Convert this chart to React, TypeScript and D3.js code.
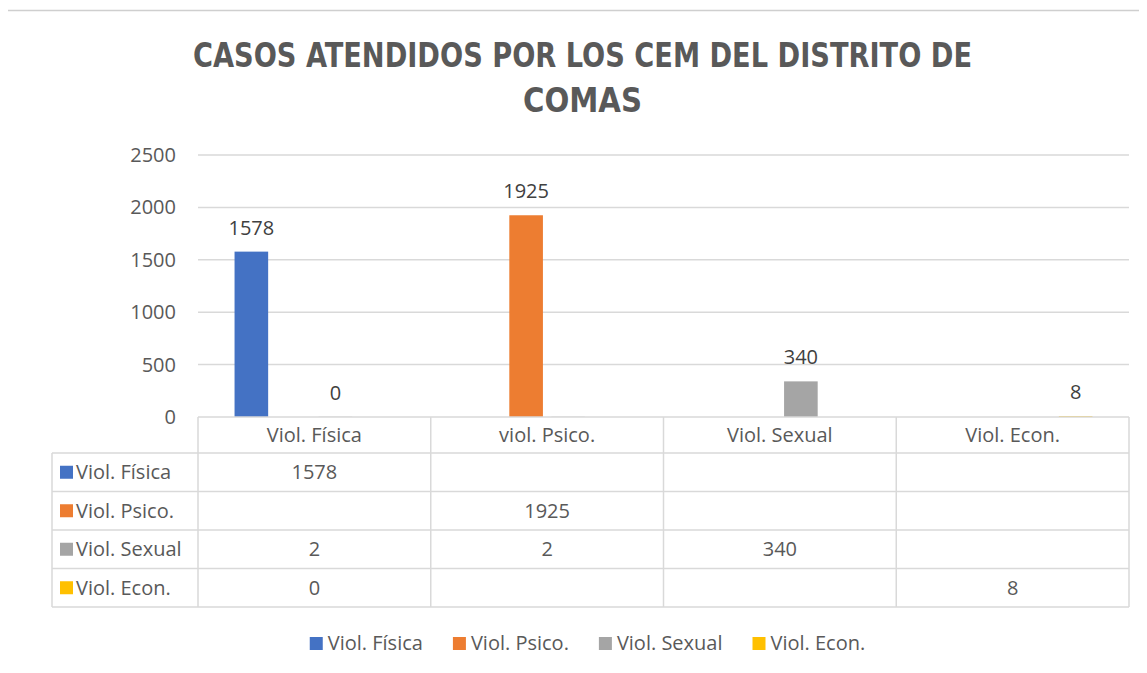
import React, { useEffect, useRef } from "react";
import * as d3 from "d3";

// Chart data
const categories = ["Viol. Física", "viol. Psico.", "Viol. Sexual", "Viol. Econ."];
const seriesNames = ["Viol. Física", "Viol. Psico.", "Viol. Sexual", "Viol. Econ."];
const fisica = [1578, null, null, null];
const psico = [null, 1925, null, null];
const sexual = [2, 2, 340, null];
const econ = [0, null, null, 8];
const seriesColors = ["#4472C4", "#ED7D31", "#A5A5A5", "#FFC000"];
const yTicks = [0, 500, 1000, 1500, 2000, 2500];
// data labels visible over the bars: [series index, category index, text]
const barLabels: [number, number, string][] = [
  [0, 0, "1578"],
  [2, 0, "0"],
  [1, 1, "1925"],
  [2, 2, "340"],
  [3, 3, "8"],
];

const title = ["CASOS ATENDIDOS POR LOS CEM DEL DISTRITO DE", "COMAS"];

const W = 1147;
const H = 673;
const FONT = "'Open Sans', 'Segoe UI', sans-serif";
const FS = "20px";
const TEXT = "#595959";
const GRID = "#D9D9D9";

const App = () => {
  const svgRef = useRef<SVGSVGElement>(null);

  useEffect(() => {
    const svg = d3.select(svgRef.current);
    svg.selectAll("*").remove();

    const values = [fisica, psico, sexual, econ];
    const plot = { left: 198, right: 1129, top: 155, bottom: 417 };
    const table = { left: 52, headerH: 36, rowH: 38.5 };

    // chart area border (left and top edges are inside the picture)
    svg.append("line")
      .attr("x1", 7).attr("x2", 7).attr("y1", 10).attr("y2", H)
      .attr("stroke", "#CFCFCF").attr("stroke-width", 2);
    svg.append("line")
      .attr("x1", 6).attr("x2", W).attr("y1", 10.5).attr("y2", 10.5)
      .attr("stroke", "#CFCFCF").attr("stroke-width", 1.5);

    // title
    svg.append("g").selectAll("text")
      .data(title)
      .join("text")
      .attr("x", 582.5)
      .attr("y", (d, i) => 67 + i * 45)
      .attr("text-anchor", "middle")
      .attr("textLength", (d, i) => (i === 0 ? 779 : 119))
      .attr("lengthAdjust", "spacingAndGlyphs")
      .style("font-family", "'Liberation Sans Narrow', 'DejaVu Sans Condensed', 'Open Sans', sans-serif")
      .style("font-weight", "bold")
      .style("font-size", "34px")
      .style("fill", TEXT)
      .text((d) => d);

    const x = d3.scaleBand()
      .domain(categories)
      .range([plot.left, plot.right])
      .padding(0);

    const xs = d3.scaleBand()
      .domain(seriesNames)
      .range([0, x.bandwidth()])
      .paddingInner(0.2)
      .paddingOuter(0.87);

    const y = d3.scaleLinear()
      .domain([0, 2500])
      .range([plot.bottom, plot.top]);

    // gridlines
    svg.append("g").selectAll("line")
      .data(yTicks.filter((t) => t > 0))
      .join("line")
      .attr("x1", plot.left).attr("x2", plot.right)
      .attr("y1", (d) => y(d)).attr("y2", (d) => y(d))
      .style("stroke", GRID).style("stroke-width", 1.5);

    // y tick labels
    svg.append("g").selectAll("text")
      .data(yTicks)
      .join("text")
      .attr("x", 176)
      .attr("y", (d) => y(d) + 7)
      .attr("text-anchor", "end")
      .style("font-family", FONT).style("font-size", FS)
      .style("fill", TEXT)
      .text((d) => d);

    // bars
    values.forEach((vals, si) => {
      svg.append("g").selectAll("rect")
        .data(vals.map((v, ci) => ({ v, ci })).filter((d) => d.v != null))
        .join("rect")
        .attr("x", (d) => x(categories[d.ci])! + xs(seriesNames[si])!)
        .attr("width", xs.bandwidth())
        .attr("y", (d) => y(d.v as number))
        .attr("height", (d) => y(0) - y(d.v as number))
        .attr("fill", seriesColors[si]);
    });

    // bar labels
    svg.append("g").selectAll("text")
      .data(barLabels)
      .join("text")
      .attr("x", (d) => x(categories[d[1]])! + xs(seriesNames[d[0]])! + xs.bandwidth() / 2)
      .attr("y", (d) => y((values[d[0]][d[1]] as number) ?? 0) - 17)
      .attr("text-anchor", "middle")
      .style("font-family", FONT).style("font-size", FS)
      .style("fill", "#404040")
      .text((d) => d[2]);

    // data table
    const tg = svg.append("g");
    const headerTop = plot.bottom;
    const rowsTop = headerTop + table.headerH;
    const tableBottom = rowsTop + table.rowH * seriesNames.length;
    const line = (x1: number, y1: number, x2: number, y2: number) =>
      tg.append("line")
        .attr("x1", x1).attr("y1", y1).attr("x2", x2).attr("y2", y2)
        .style("stroke", GRID).style("stroke-width", 1.5);

    line(plot.left, headerTop, plot.right, headerTop);
    line(table.left, tableBottom, plot.right, tableBottom);
    seriesNames.forEach((s, i) => line(table.left, rowsTop + i * table.rowH, plot.right, rowsTop + i * table.rowH));
    line(table.left, rowsTop, table.left, tableBottom);
    categories.forEach((c) => line(x(c)!, headerTop, x(c)!, tableBottom));
    line(plot.right, headerTop, plot.right, tableBottom);

    tg.selectAll(".cat")
      .data(categories)
      .join("text")
      .attr("class", "cat")
      .attr("x", (d) => x(d)! + x.bandwidth() / 2)
      .attr("y", headerTop + table.headerH / 2 + 7)
      .attr("text-anchor", "middle")
      .style("font-family", FONT).style("font-size", FS)
      .style("fill", TEXT)
      .text((d) => d);

    seriesNames.forEach((s, si) => {
      const cy = rowsTop + si * table.rowH + table.rowH / 2;
      tg.append("rect")
        .attr("x", 60).attr("y", cy - 6.5)
        .attr("width", 13).attr("height", 13)
        .attr("fill", seriesColors[si]);
      tg.append("text")
        .attr("x", 76).attr("y", cy + 7)
        .style("font-family", FONT).style("font-size", FS)
        .style("fill", TEXT)
        .text(s);
      tg.append("g").selectAll("text")
        .data(values[si].map((v, ci) => ({ v, ci })).filter((d) => d.v != null))
        .join("text")
        .attr("x", (d) => x(categories[d.ci])! + x.bandwidth() / 2)
        .attr("y", cy + 7)
        .attr("text-anchor", "middle")
        .style("font-family", FONT).style("font-size", FS)
        .style("fill", TEXT)
        .text((d) => String(d.v));
    });

    // legend
    const lg = svg.append("g");
    const items = lg.selectAll("g")
      .data(seriesNames)
      .join("g");
    items.append("rect")
      .attr("y", 637).attr("width", 13).attr("height", 13)
      .attr("fill", (d, i) => seriesColors[i]);
    items.append("text")
      .attr("x", 18).attr("y", 650)
      .style("font-family", FONT).style("font-size", FS)
      .style("fill", TEXT)
      .text((d) => d);
    const gap = 30;
    let cx = 0;
    const offsets: number[] = [];
    items.each(function () {
      offsets.push(cx);
      cx += (this as SVGGElement).getBBox().width + gap;
    });
    cx -= gap;
    const start = 587.5 - cx / 2;
    items.attr("transform", (d, i) => `translate(${start + offsets[i]},0)`);
  }, []);

  return <svg ref={svgRef} width={W} height={H} style={{ display: "block", margin: "-8px" }} />;
};

export default App;
